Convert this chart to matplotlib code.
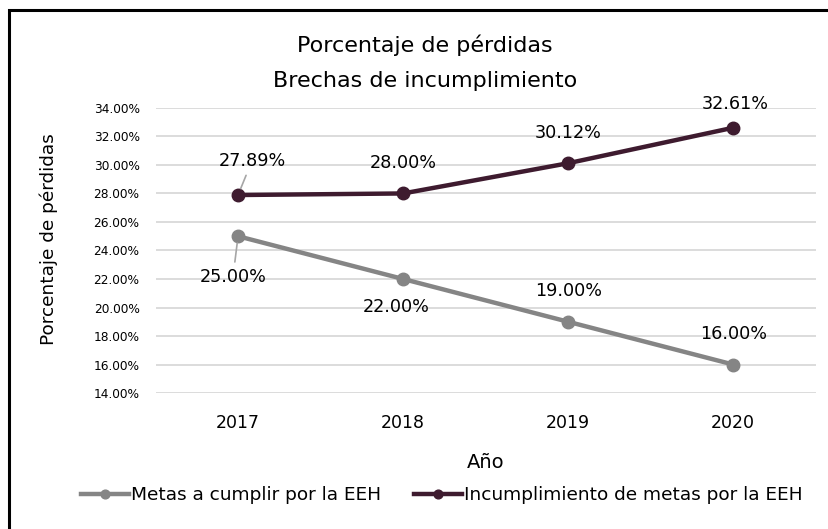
import matplotlib
matplotlib.use('Agg')
import matplotlib.pyplot as plt
from matplotlib.patches import Rectangle
from matplotlib.ticker import FuncFormatter

# data
years = ['2017', '2018', '2019', '2020']
metas = [25.00, 22.00, 19.00, 16.00]
incumplimiento = [27.89, 28.00, 30.12, 32.61]
yticks = [14, 16, 18, 20, 22, 24, 26, 28, 30, 32, 34]

plt.rcParams['font.family'] = ['DejaVu Sans']

gray = '#858585'
dark = '#3e1b2f'

fig = plt.figure(figsize=(8.29, 5.29), dpi=100)
ax = fig.add_axes([0.1876, 0.257, 0.7964, 0.539])

x = range(len(years))
ax.plot(x, metas, color=gray, lw=3.2, marker='o', ms=9, label='Metas a cumplir por la EEH', zorder=3)
ax.plot(x, incumplimiento, color=dark, lw=3.2, marker='o', ms=9, label='Incumplimiento de metas por la EEH', zorder=3)

# data labels (offsets in points)
off_metas = [(-3.6, -29), (-5, -20), (0, 22.3), (0, 22.3)]
off_inc = [(10, 24.5), (0, 21.6), (0, 21.6), (1.5, 17.3)]
for i in x:
    lead = dict(arrowstyle='-', color='#a6a6a6', lw=1.2, shrinkA=2, shrinkB=5) if i == 0 else None
    ax.annotate('%.2f%%' % metas[i], (i, metas[i]), xytext=off_metas[i], textcoords='offset points',
                ha='center', va='center', fontsize=12.7, color='black', arrowprops=lead)
    ax.annotate('%.2f%%' % incumplimiento[i], (i, incumplimiento[i]), xytext=off_inc[i], textcoords='offset points',
                ha='center', va='center', fontsize=12.7, color='black', arrowprops=lead)

ax.set_xlim(-0.5, 3.5)
ax.set_ylim(14, 34)
ax.set_xticks(list(x))
ax.set_xticklabels(years, fontsize=12.5)
ax.set_yticks(yticks)
ax.yaxis.set_major_formatter(FuncFormatter(lambda v, p: '%.2f%%' % v))
ax.tick_params(axis='y', labelsize=8.7, length=0, pad=11.5)
ax.tick_params(axis='x', length=0, pad=15)
ax.grid(axis='y', color='#d9d9d9', lw=1.3)
ax.set_axisbelow(True)
for s in ax.spines.values():
    s.set_visible(False)

ax.set_xlabel('Año', fontsize=14, labelpad=15)
ax.set_ylabel('Porcentaje de pérdidas', fontsize=13.3)
ax.yaxis.set_label_coords(-0.148, 0.54)
fig.text(0.513, 0.902, 'Porcentaje de pérdidas', ha='center', va='baseline', fontsize=16)
fig.text(0.513, 0.836, 'Brechas de incumplimiento', ha='center', va='baseline', fontsize=16)

fig.legend(loc='center', bbox_to_anchor=(0.533, 0.064), ncol=2, frameon=False, fontsize=13.3,
           handlelength=2.6, handletextpad=0.1, columnspacing=1.8, markerscale=0.7)

# outer border (only top/left visible in the crop)
fig.patches.append(Rectangle((9.5 / 829, -0.1), 1.2, 1.1 - 9.5 / 529, transform=fig.transFigure,
                             fill=False, edgecolor='black', lw=2.2))

fig.savefig('out.png', dpi=100)
